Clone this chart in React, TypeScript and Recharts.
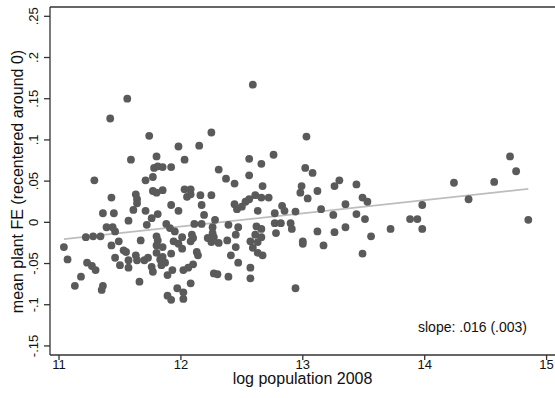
import { ScatterChart, Scatter, XAxis, YAxis, ReferenceLine } from 'recharts';

// log population 2008 (x) and mean plant fixed effect (y), one entry per city
const logPop = [
  11.56, 11.42, 11.74, 11.98, 11.59, 11.80, 11.78, 11.81, 11.85, 11.92,
  11.29, 11.71, 11.77, 11.43, 11.63, 11.64, 11.64, 11.77, 11.80, 11.85,
  11.92, 11.98, 11.36, 11.45, 11.61, 11.71, 11.57, 11.76, 11.81,
  12.03, 12.31, 12.37, 12.44, 12.56, 12.66, 12.76, 12.56, 12.67, 12.03,
  12.08, 12.05, 12.08, 12.16, 12.25, 12.17, 12.19, 12.44, 12.46, 12.50,
  12.53, 12.56, 12.61, 12.66, 12.72, 12.63, 12.77, 12.59, 12.25, 12.15,
  12.83, 12.85, 12.94,
  11.39, 11.44, 11.46, 11.22, 11.28, 11.34, 11.04, 11.07, 11.72, 11.88,
  11.91, 11.95, 11.80, 11.81, 11.80, 11.85, 11.67, 11.49, 11.43, 11.94,
  11.98, 12.01, 12.11, 12.17, 12.09, 12.10, 12.08, 12.22, 12.25, 12.27,
  12.31, 12.28, 12.26, 12.26, 12.39, 12.38, 12.47, 12.45, 12.45, 12.62,
  12.66, 12.61, 12.66, 12.63, 12.57, 12.59, 12.63, 12.67, 12.77, 12.78,
  12.82, 12.90, 12.91, 12.41, 12.47,
  11.46, 11.50, 11.53, 11.55, 11.57, 11.57, 11.63, 11.64, 11.70, 11.73,
  11.76, 11.77, 11.80, 11.83, 11.85, 11.87, 11.84, 11.92, 11.89, 11.93,
  12.02, 12.06, 12.10, 12.01, 12.13, 12.14, 12.27, 12.30, 12.39, 12.57,
  12.57, 11.23, 11.27, 11.30, 11.18, 11.13, 11.36, 11.35, 11.66, 11.89,
  11.92, 11.97, 12.02, 12.02, 12.08, 12.94,
  13.03, 13.02, 13.08, 12.99, 12.98, 13.04, 13.12, 13.30, 13.26, 13.44,
  13.49, 13.53, 13.35, 13.15, 13.25, 13.44, 13.51, 13.88, 13.94, 13.98,
  13.98, 13.12, 13.26, 13.35, 13.56, 13.72, 13.00, 13.00, 13.17, 13.49,
  14.70, 14.75, 14.57, 14.24, 14.36, 14.85,
];

const plantFE = [
  0.150, 0.126, 0.105, 0.092, 0.076, 0.080, 0.066, 0.068, 0.067, 0.067,
  0.051, 0.051, 0.055, 0.030, 0.034, 0.028, 0.023, 0.038, 0.036, 0.039,
  0.021, 0.014, 0.011, 0.011, 0.015, 0.014, 0.002, 0.005, 0.010,
  0.076, 0.064, 0.053, 0.047, 0.077, 0.071, 0.082, 0.057, 0.044, 0.040,
  0.040, 0.031, 0.034, 0.033, 0.033, 0.021, 0.009, 0.022, 0.016, 0.019,
  0.025, 0.028, 0.033, 0.030, 0.030, 0.014, 0.011, 0.167, 0.109, 0.093,
  0.020, 0.014, 0.013,
  -0.006, -0.006, -0.011, -0.018, -0.017, -0.017, -0.030, -0.045, -0.003, -0.002,
  -0.007, -0.011, -0.017, -0.022, -0.028, -0.030, -0.022, -0.023, -0.028, -0.023,
  -0.026, -0.018, -0.002, -0.002, -0.015, -0.019, -0.023, -0.019, -0.024, -0.018,
  -0.025, 0.003, -0.006, -0.013, -0.003, -0.022, -0.006, -0.015, -0.030, -0.005,
  -0.008, -0.015, -0.018, -0.024, -0.023, -0.031, -0.037, -0.040, -0.001, -0.013,
  -0.001, -0.001, -0.008, -0.040, -0.049,
  -0.043, -0.052, -0.034, -0.036, -0.046, -0.055, -0.040, -0.046, -0.046, -0.043,
  -0.054, -0.060, -0.037, -0.045, -0.042, -0.049, -0.052, -0.038, -0.064, -0.058,
  -0.058, -0.055, -0.051, -0.032, -0.036, -0.040, -0.062, -0.063, -0.066, -0.055,
  -0.068, -0.049, -0.053, -0.058, -0.066, -0.077, -0.077, -0.082, -0.072, -0.089,
  -0.094, -0.080, -0.085, -0.093, -0.074, -0.080,
  0.104, 0.066, 0.060, 0.044, 0.036, 0.029, 0.038, 0.051, 0.044, 0.046,
  0.030, 0.025, 0.022, 0.016, 0.009, 0.010, 0.004, 0.004, 0.004, 0.021,
  -0.008, -0.011, -0.012, -0.006, -0.017, -0.008, -0.023, -0.026, -0.028, -0.038,
  0.080, 0.062, 0.049, 0.048, 0.028, 0.003,
];

const xTicks = [11, 12, 13, 14, 15];
const yTicks = [-0.15, -0.1, -0.05, 0, 0.05, 0.1, 0.15, 0.2, 0.25];

// linear fit
const fitSlope = 0.016;
const fitIntercept = -0.197;
const fitRange = [11.04, 14.85];

const xDomain = [10.926, 15.069];
const yDomain = [-0.161, 0.2613];

const FONT = '"Liberation Sans", Arial, Helvetica, sans-serif';
const AXIS = '#333333';
const DOT = '#5a5a5a';

const points = logPop.map((x, i) => ({ x, y: plantFE[i] }));

// Stata-style numbers: .05, -.1, 0
const fmt = (v: number) => String(v).replace('0.', '.');

const XTick = (props: any) => {
  const { x, y, payload } = props;
  return (
    <text x={x} y={y + 7} textAnchor="middle" fontSize={13} fontFamily={FONT} fill="#111">
      {payload.value}
    </text>
  );
};

const YTick = (props: any) => {
  const { x, y, payload } = props;
  const bx = x - 3.5;
  return (
    <text
      x={bx}
      y={y}
      transform={`rotate(-90 ${bx} ${y})`}
      textAnchor="middle"
      fontSize={13}
      fontFamily={FONT}
      fill="#111"
    >
      {fmt(payload.value)}
    </text>
  );
};

const Dot = (props: any) => <circle cx={props.cx} cy={props.cy} r={3.9} fill={DOT} />;

export default function App() {
  return (
    <div style={{ position: 'absolute', left: 0, top: 0, background: '#fff' }}>
      <ScatterChart width={555} height={398} margin={{ top: 7, right: 0, bottom: 0, left: 0 }}>
        <XAxis
          type="number"
          dataKey="x"
          domain={xDomain}
          allowDataOverflow
          ticks={xTicks}
          height={43}
          tickSize={5}
          stroke={AXIS}
          strokeWidth={1.3}
          tick={<XTick />}
          label={{
            content: () => (
              <text x={302.5} y={384} textAnchor="middle" fontSize={16} fontFamily={FONT} fill="#111">
                log population 2008
              </text>
            ),
          }}
        />
        <YAxis
          type="number"
          dataKey="y"
          domain={yDomain}
          allowDataOverflow
          ticks={yTicks}
          width={50}
          tickSize={6}
          stroke={AXIS}
          strokeWidth={1.3}
          tick={<YTick />}
          label={{
            content: () => (
              <text
                x={23}
                y={181.5}
                transform="rotate(-90 23 181.5)"
                textAnchor="middle"
                fontSize={16}
                fontFamily={FONT}
                fill="#111"
              >
                mean plant FE (recentered around 0)
              </text>
            ),
          }}
        />
        <ReferenceLine y={yDomain[1]} stroke={AXIS} strokeWidth={1.3} />
        <Scatter data={points} shape={<Dot />} isAnimationActive={false} />
        <ReferenceLine
          segment={[
            { x: fitRange[0], y: fitIntercept + fitSlope * fitRange[0] },
            { x: fitRange[1], y: fitIntercept + fitSlope * fitRange[1] },
          ]}
          stroke="#bdbdbd"
          strokeWidth={1.8}
          label={{
            content: () => (
              <text x={418} y={331.5} fontSize={14} fontFamily={FONT} fill="#111">
                slope: .016 (.003)
              </text>
            ),
          }}
        />
      </ScatterChart>
    </div>
  );
}
